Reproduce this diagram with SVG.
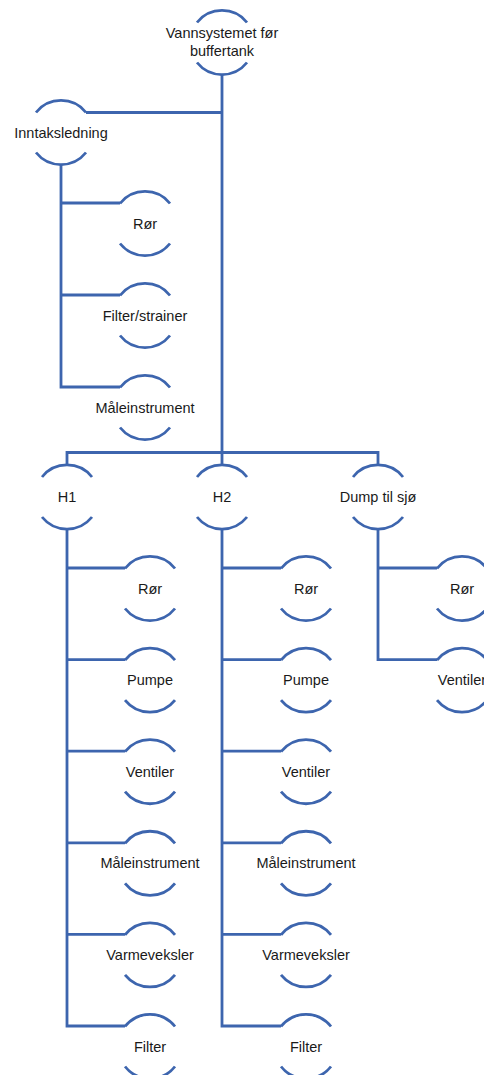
<svg xmlns="http://www.w3.org/2000/svg" xmlns:xlink="http://www.w3.org/1999/xlink" width="484" height="1075" viewBox="0 0 484 1075">
<style>
.arc{fill:none;stroke:#3D65AE;stroke-width:2.8;}
.conn{fill:none;stroke:#3D65AE;stroke-width:2.8;stroke-linejoin:miter;}
.lbl{font-family:"Liberation Sans",Arial,sans-serif;font-size:14.5px;fill:#1a1a1a;text-anchor:middle;dominant-baseline:central;}
</style>
<defs>
<path id="nd" class="arc" d="M-25,-20 A32,32 0 0 1 25,-20 M-25,20 A32,32 0 0 0 25,20"/>
</defs>
<rect width="484" height="1075" fill="#ffffff"/>
<g id="connectors" class="conn">
<path d="M222,74 V465"/>
<path d="M222,112.5 H86"/>
<path d="M61,164.5 V387 H120"/>
<path d="M61,203 H120"/>
<path d="M61,295 H120"/>
<path d="M67,465 V452.5 H378 V465"/>
<path d="M67,529 V1026 H125"/>
<path d="M67,568 H125"/>
<path d="M67,659.6 H125"/>
<path d="M67,751.2 H125"/>
<path d="M67,842.8 H125"/>
<path d="M67,934.4 H125"/>
<path d="M222,529 V1026 H281"/>
<path d="M222,568 H281"/>
<path d="M222,659.6 H281"/>
<path d="M222,751.2 H281"/>
<path d="M222,842.8 H281"/>
<path d="M222,934.4 H281"/>
<path d="M378,529 V659.6 H437"/>
<path d="M378,568 H437"/>
</g>
<g id="n-root"><use xlink:href="#nd" href="#nd" x="222" y="42.5"/><text class="lbl" x="222" y="33">Vannsystemet før</text><text class="lbl" x="222" y="51">buffertank</text></g>
<g id="n-inntak"><use href="#nd" x="61" y="132.5"/><text class="lbl" x="61" y="132.5">Inntaksledning</text></g>
<g id="n-inntak-ror"><use href="#nd" x="145" y="223.5"/><text class="lbl" x="145" y="223.5">Rør</text></g>
<g id="n-inntak-filter"><use href="#nd" x="145" y="315.5"/><text class="lbl" x="145" y="315.5">Filter/strainer</text></g>
<g id="n-inntak-male"><use href="#nd" x="145" y="407.5"/><text class="lbl" x="145" y="407.5">Måleinstrument</text></g>
<g id="n-h1"><use href="#nd" x="67" y="497"/><text class="lbl" x="67" y="497">H1</text></g>
<g id="n-h2"><use href="#nd" x="222" y="497"/><text class="lbl" x="222" y="497">H2</text></g>
<g id="n-dump"><use href="#nd" x="378" y="497"/><text class="lbl" x="378" y="497">Dump til sjø</text></g>
<g id="n-h1-ror"><use href="#nd" x="150" y="588.5"/><text class="lbl" x="150" y="588.5">Rør</text></g>
<g id="n-h1-pumpe"><use href="#nd" x="150" y="680.1"/><text class="lbl" x="150" y="680.1">Pumpe</text></g>
<g id="n-h1-ventiler"><use href="#nd" x="150" y="771.7"/><text class="lbl" x="150" y="771.7">Ventiler</text></g>
<g id="n-h1-male"><use href="#nd" x="150" y="863.3"/><text class="lbl" x="150" y="863.3">Måleinstrument</text></g>
<g id="n-h1-varme"><use href="#nd" x="150" y="954.9"/><text class="lbl" x="150" y="954.9">Varmeveksler</text></g>
<g id="n-h1-filter"><use href="#nd" x="150" y="1046.5"/><text class="lbl" x="150" y="1046.5">Filter</text></g>
<g id="n-h2-ror"><use href="#nd" x="306" y="588.5"/><text class="lbl" x="306" y="588.5">Rør</text></g>
<g id="n-h2-pumpe"><use href="#nd" x="306" y="680.1"/><text class="lbl" x="306" y="680.1">Pumpe</text></g>
<g id="n-h2-ventiler"><use href="#nd" x="306" y="771.7"/><text class="lbl" x="306" y="771.7">Ventiler</text></g>
<g id="n-h2-male"><use href="#nd" x="306" y="863.3"/><text class="lbl" x="306" y="863.3">Måleinstrument</text></g>
<g id="n-h2-varme"><use href="#nd" x="306" y="954.9"/><text class="lbl" x="306" y="954.9">Varmeveksler</text></g>
<g id="n-h2-filter"><use href="#nd" x="306" y="1046.5"/><text class="lbl" x="306" y="1046.5">Filter</text></g>
<g id="n-dump-ror"><use href="#nd" x="462" y="588.5"/><text class="lbl" x="462" y="588.5">Rør</text></g>
<g id="n-dump-ventiler"><use href="#nd" x="462" y="680.1"/><text class="lbl" x="462" y="680.1">Ventiler</text></g>
</svg>
